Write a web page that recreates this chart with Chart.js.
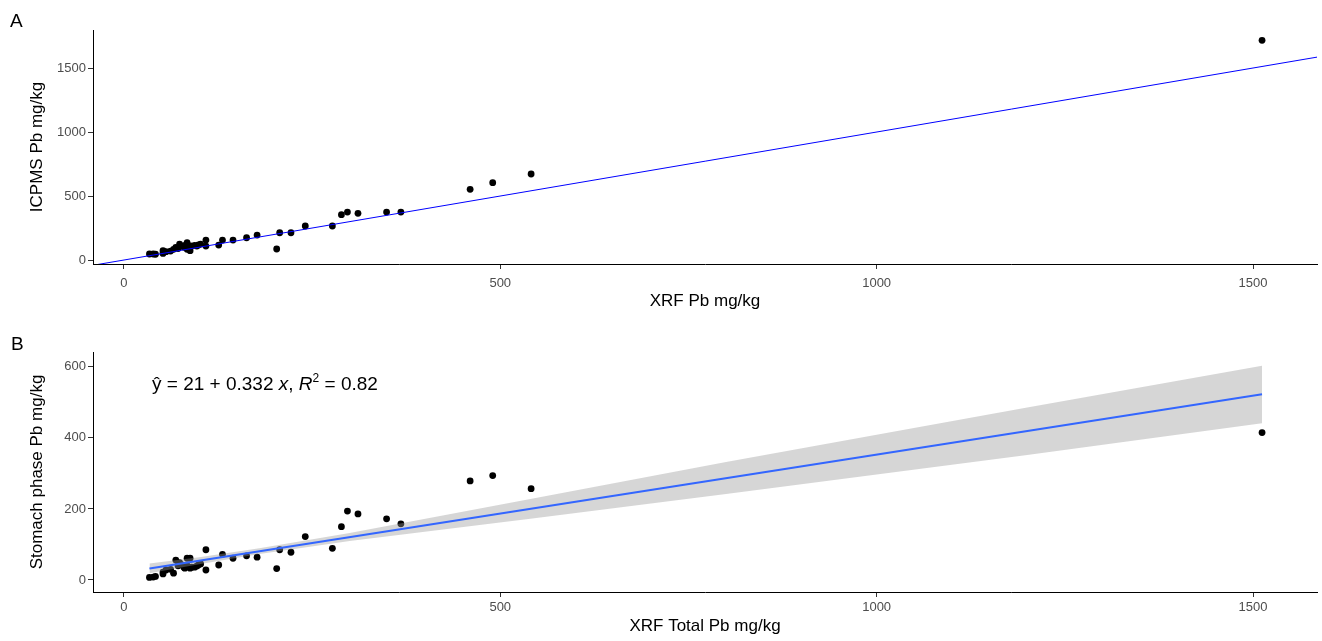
<!DOCTYPE html>
<html>
<head>
<meta charset="utf-8">
<script src="https://cdn.jsdelivr.net/npm/chart.js@4"></script>
<style>
  body { margin: 0; background: #fff; font-family: "Liberation Sans", Arial, sans-serif; }
  #wrap { position: relative; width: 1322px; height: 641px; }
  .panel { position: absolute; left: 0; width: 1322px; }
  .tag { position: absolute; font-size: 19px; color: #000; line-height: 1; }
  #eq { position: absolute; left: 152px; top: 374px; font-size: 19px; line-height: 1; color: #000; white-space: nowrap; }
  #eq sup { font-size: 12px; vertical-align: 8px; line-height: 0; }
</style>
</head>
<body>
<div id="wrap">
  <div class="panel" style="top:0;height:320px"><canvas id="chartA"></canvas></div>
  <div class="panel" style="top:320px;height:321px"><canvas id="chartB"></canvas></div>
  <div class="tag" style="left:10px;top:11px">A</div>
  <div class="tag" style="left:11px;top:334px">B</div>
  <div id="eq">ŷ = 21 + 0.332 <i>x</i>, <i>R</i><sup>2</sup> = 0.82</div>
</div>
<script>
// samples: XRF total Pb, ICPMS Pb, stomach phase (bioaccessible) Pb, all mg/kg
var xrfPb     = [34, 39, 42, 52, 52, 56, 62, 66, 69, 72, 74, 77, 80, 81, 84, 84, 88, 88, 90, 94, 97, 99, 102, 109, 109,
                 126, 131, 145, 163, 177, 203, 207, 222, 241, 277, 289, 297, 311, 349, 368, 460, 490, 541, 1512];
var icpmsPb   = [47, 47, 45, 73, 52, 65, 70, 84, 99, 90, 125, 109, 100, 115, 135, 84, 73, 110, 109, 115, 109, 118, 125, 156, 109,
                 117, 156, 156, 174, 195, 86, 213, 213, 266, 266, 354, 375, 365, 375, 375, 552, 604, 672, 1716];
var stomachPb = [7, 8, 10, 17, 22, 28, 30, 19, 56, 40, 49, 42, 35, 33, 61, 40, 61, 33, 36, 36, 39, 42, 45, 85, 28,
                 42, 72, 61, 68, 64, 32, 85, 78, 122, 89, 150, 194, 186, 172, 158, 279, 294, 257, 415];

// 1:1 reference line (panel A)
var lineAX = [-41, 1585];

// linear fit y = 21 + 0.332x and its confidence band (panel B)
var fitX = [34, 1512];
var fitY = [32, 523];
var bandX    = [34, 100, 180, 300, 540, 800, 1000, 1200, 1512];
var bandLow  = [19, 44, 73, 110, 172, 242, 297, 352, 441];
var bandHigh = [46, 64, 89, 132, 228, 332, 409, 486, 603];

var xTicks = [0, 500, 1000, 1500];
var yTicksA = [0, 500, 1000, 1500];
var yTicksB = [0, 200, 400, 600];

var FONT = '"Liberation Sans", Arial, sans-serif';

function pts(xs, ys) {
  return xs.map(function(x, i) { return { x: x, y: ys[i] }; });
}

function fixTicks(list) {
  return function(scale) { scale.ticks = list.map(function(v) { return { value: v }; }); };
}

function plain(v) { return String(v); }

function axes(yMin, yMax, yTicks, yTitle, xTitle, xHeight, tickPad, titlePad) {
  return {
    x: {
      type: 'linear', min: -41, max: 1585,
      afterBuildTicks: fixTicks(xTicks),
      afterFit: function(s) { s.height = xHeight; },
      grid: { display: true, drawOnChartArea: false, drawTicks: true, tickLength: 5, color: '#333' },
      border: { display: true, color: '#000', width: 1 },
      ticks: { color: '#4d4d4d', font: { family: FONT, size: 13 }, padding: tickPad, maxRotation: 0, callback: plain },
      title: { display: true, text: xTitle, color: '#000', font: { family: FONT, size: 17 }, padding: { top: 0, bottom: titlePad } }
    },
    y: {
      type: 'linear', min: yMin, max: yMax,
      afterBuildTicks: fixTicks(yTicks),
      afterFit: function(s) { s.width = 93; },
      grid: { display: true, drawOnChartArea: false, drawTicks: true, tickLength: 5, color: '#333' },
      border: { display: true, color: '#000', width: 1 },
      ticks: { color: '#4d4d4d', font: { family: FONT, size: 13 }, padding: 2, callback: plain },
      title: { display: true, text: yTitle, color: '#000', font: { family: FONT, size: 17 }, padding: { top: 27, bottom: 0 } }
    }
  };
}

var common = {
  responsive: false, animation: false,
  plugins: { legend: { display: false }, tooltip: { enabled: false } }
};

function makeCanvas(id, h) {
  var c = document.getElementById(id);
  c.width = 1322; c.height = h;
  c.style.width = '1322px'; c.style.height = h + 'px';
  return c;
}

new Chart(makeCanvas('chartA', 320), {
  type: 'scatter',
  data: {
    datasets: [
      { type: 'line', data: pts(lineAX, lineAX), borderColor: '#0000ff', borderWidth: 1, pointRadius: 0, fill: false, order: 0 },
      { data: pts(xrfPb, icpmsPb), backgroundColor: '#000', borderWidth: 0, pointRadius: 3.4, order: 1 }
    ]
  },
  options: Object.assign({}, common, {
    layout: { padding: { top: 30, right: 5, left: 0, bottom: 0 } },
    scales: axes(-31, 1797, yTicksA, 'ICPMS Pb mg/kg', 'XRF Pb mg/kg', 56, 7, 8)
  })
});

new Chart(makeCanvas('chartB', 321), {
  type: 'scatter',
  data: {
    datasets: [
      { type: 'line', data: pts(fitX, fitY), borderColor: '#3366ff', borderWidth: 2, pointRadius: 0, fill: false, order: 0 },
      { type: 'line', data: pts(bandX, bandLow), borderWidth: 0, borderColor: 'rgba(0,0,0,0)', pointRadius: 0, fill: false, order: 1 },
      { type: 'line', data: pts(bandX, bandHigh), borderWidth: 0, borderColor: 'rgba(0,0,0,0)', pointRadius: 0,
        fill: '-1', backgroundColor: 'rgba(153,153,153,0.4)', order: 1 },
      { data: pts(xrfPb, stomachPb), backgroundColor: '#000', borderWidth: 0, pointRadius: 3.4, order: 2 }
    ]
  },
  options: Object.assign({}, common, {
    layout: { padding: { top: 32, right: 5, left: 0, bottom: 0 } },
    scales: axes(-34, 642, yTicksB, 'Stomach phase Pb mg/kg', 'XRF Total Pb mg/kg', 49, 3, 4)
  })
});
</script>
</body>
</html>
